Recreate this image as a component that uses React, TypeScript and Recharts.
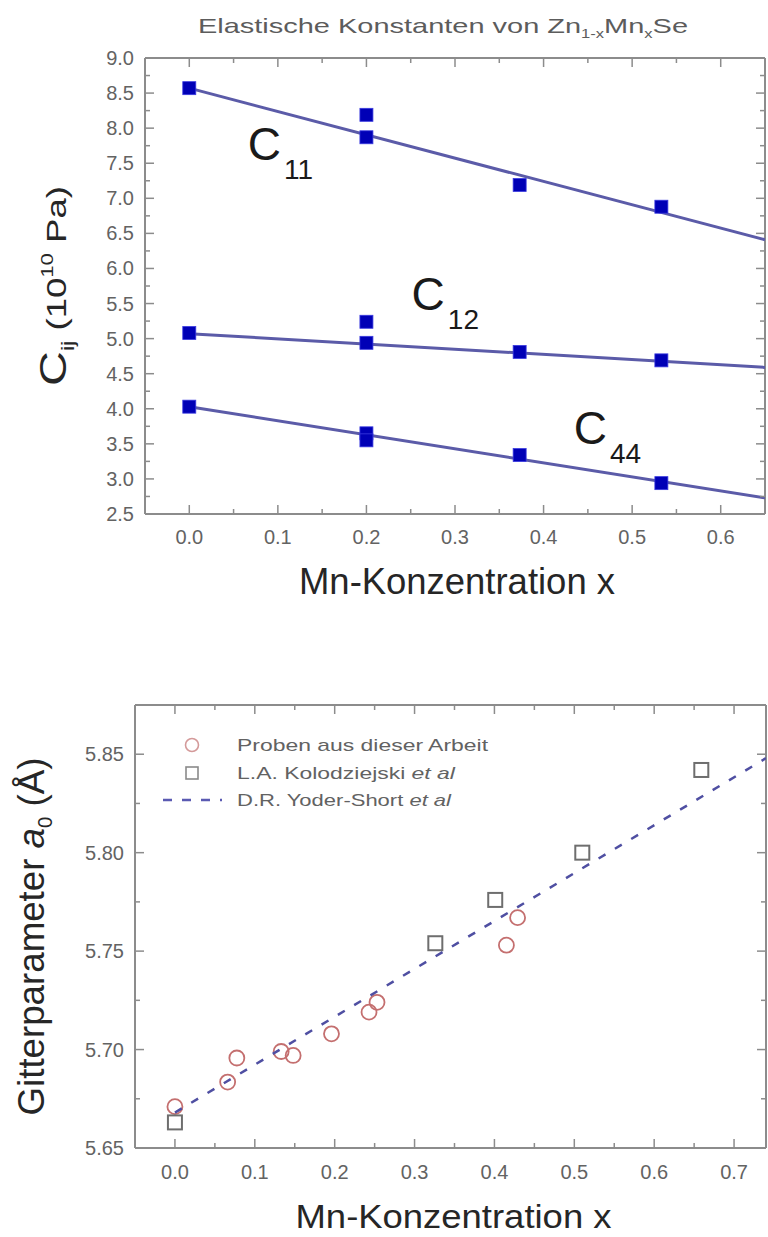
import React from 'react';
import { ScatterChart, Scatter, XAxis, YAxis, ReferenceDot, Legend, Label } from 'recharts';

const FONT = '"Liberation Sans", Arial, Helvetica, sans-serif';
const FRAME = '#8c8c8c';
const TICK_TEXT = '#636363';

// ---------------- Top chart: elastic constants ----------------
const MN_X = [0.0, 0.2, 0.2, 0.373, 0.533];
const C11 = [8.57, 8.19, 7.87, 7.19, 6.88];
const C12 = [5.08, 5.24, 4.94, 4.81, 4.69];
const C44 = [4.03, 3.65, 3.55, 3.34, 2.94];
const FIT_X = [0.0, 0.65];
const C11_FIT = [8.57, 6.41];
const C12_FIT = [5.07, 4.59];
const C44_FIT = [4.03, 2.73];
const C_NAMES = ['11', '12', '44'];
const C_LABEL_X = [0.066, 0.251, 0.434];
const C_LABEL_Y = [7.55, 5.41, 3.5];
const TOP_X_MAJOR = [0, 0.1, 0.2, 0.3, 0.4, 0.5, 0.6];
const TOP_X_MINOR = [0.05, 0.15, 0.25, 0.35, 0.45, 0.55];
const TOP_Y_MAJOR = [2.5, 3.0, 3.5, 4.0, 4.5, 5.0, 5.5, 6.0, 6.5, 7.0, 7.5, 8.0, 8.5, 9.0];
const TOP_Y_MINOR = [2.75, 3.25, 3.75, 4.25, 4.75, 5.25, 5.75, 6.25, 6.75, 7.25, 7.75, 8.25, 8.75];

// ---------------- Bottom chart: lattice parameter ----------------
const PROBEN_X = [0.0, 0.066, 0.0775, 0.133, 0.148, 0.196, 0.243, 0.253, 0.415, 0.429];
const PROBEN_Y = [5.671, 5.6835, 5.6957, 5.699, 5.697, 5.708, 5.719, 5.724, 5.753, 5.767];
const KOLO_X = [0.0, 0.326, 0.401, 0.51, 0.659];
const KOLO_Y = [5.663, 5.754, 5.776, 5.8, 5.842];
const YODER_X = [0.0, 0.74];
const YODER_Y = [5.668, 5.848];
const LEGEND_NAMES = ['Proben aus dieser Arbeit', 'L.A. Kolodziejski ', 'D.R. Yoder-Short '];
const LEGEND_ITALIC = ['', 'et al', 'et al'];
const BOT_X_MAJOR = [0, 0.1, 0.2, 0.3, 0.4, 0.5, 0.6, 0.7];
const BOT_X_MINOR = [0.05, 0.15, 0.25, 0.35, 0.45, 0.55, 0.65];
const BOT_Y_MAJOR = [5.65, 5.7, 5.75, 5.8, 5.85];
const BOT_Y_MINOR = [5.675, 5.725, 5.775, 5.825];

const zip = (xs: number[], ys: number[]) => xs.map((x, i) => ({ x, y: ys[i] }));

// ---------------- tick renderers (inward ticks) ----------------
const MAJOR_LEN = 9;
const MINOR_LEN = 5;

const makeBottomTick = (majors: number[], digits: number, dyText: number) => (p: any) => {
  const v = p.payload?.value;
  const major = majors.includes(v);
  return (
    <g>
      <line x1={p.x} x2={p.x} y1={p.y} y2={p.y - (major ? MAJOR_LEN : MINOR_LEN)} stroke={FRAME} strokeWidth={1.5} />
      {major && (
        <text x={p.x} y={p.y + dyText} textAnchor="middle" fontFamily={FONT} fontSize={20} fill={TICK_TEXT}>
          {Number(v).toFixed(digits)}
        </text>
      )}
    </g>
  );
};
const makeLeftTick = (majors: number[], digits: number, dxText: number) => (p: any) => {
  const v = p.payload?.value;
  const major = majors.includes(v);
  return (
    <g>
      <line x1={p.x} x2={p.x + (major ? MAJOR_LEN : MINOR_LEN)} y1={p.y} y2={p.y} stroke={FRAME} strokeWidth={1.5} />
      {major && (
        <text x={p.x - dxText} y={p.y + 7} textAnchor="end" fontFamily={FONT} fontSize={20} fill={TICK_TEXT}>
          {Number(v).toFixed(digits)}
        </text>
      )}
    </g>
  );
};
const makeTopTick = (majors: number[]) => (p: any) => {
  const major = majors.includes(p.payload?.value);
  return <line x1={p.x} x2={p.x} y1={p.y} y2={p.y + (major ? MAJOR_LEN : MINOR_LEN)} stroke={FRAME} strokeWidth={1.5} />;
};
const makeRightTick = (majors: number[]) => (p: any) => {
  const major = majors.includes(p.payload?.value);
  return <line x1={p.x} x2={p.x - (major ? MAJOR_LEN : MINOR_LEN)} y1={p.y} y2={p.y} stroke={FRAME} strokeWidth={1.5} />;
};

// ---------------- marker shapes ----------------
const NoShape = () => <g />;
const BlueSquare = (p: any) => (
  <rect x={p.cx - 6.5} y={p.cy - 6.5} width={13} height={13} fill="#0000b6" stroke="#3a3ae0" strokeWidth={0.8} />
);
const RedCircle = (p: any) => (
  <circle cx={p.cx} cy={p.cy} r={7.5} fill="none" stroke="#c46f6f" strokeWidth={1.8} />
);
const GraySquare = (p: any) => (
  <rect x={p.cx - 7} y={p.cy - 7} width={14} height={14} fill="none" stroke="#6e6e6e" strokeWidth={2} />
);

// ---------------- labels ----------------
// viewBox of an axis label = the axis box
const TopTitle = (p: any) => {
  const vb = p.viewBox || { x: 145, y: 38, width: 621, height: 20 };
  return (
    <text x={vb.x + vb.width / 2 - 12} y={vb.y + vb.height - 25} textAnchor="middle" fontFamily={FONT} fontSize={21}
      fill="#5c5c5c" textLength={490} lengthAdjust="spacingAndGlyphs">
      Elastische Konstanten von Zn<tspan fontSize={12} dy={5}>1-x</tspan>
      <tspan dy={-5}>Mn</tspan><tspan fontSize={12} dy={5}>x</tspan><tspan dy={-5}>Se</tspan>
    </text>
  );
};
const makeXTitle = (dx: number, dy: number, len: number, size: number) => (p: any) => {
  const vb = p.viewBox || { x: 0, y: 0, width: 0, height: 0 };
  return (
    <text x={vb.x + vb.width / 2 + dx} y={vb.y + dy} textAnchor="middle" fontFamily={FONT}
      fontSize={size} fill="#262626" textLength={len} lengthAdjust="spacingAndGlyphs">
      Mn-Konzentration x
    </text>
  );
};
const TopYTitle = (p: any) => {
  const vb = p.viewBox || { x: 85, y: 58, width: 60, height: 456 };
  const cx = vb.x + vb.width - 79;
  const cy = vb.y + vb.height / 2;
  return (
    <text transform={`translate(${cx},${cy}) rotate(-90)`} x={0} y={0} textAnchor="middle" fontFamily={FONT}
      fontSize={28} fill="#262626" textLength={200} lengthAdjust="spacingAndGlyphs">
      <tspan fontSize={37}>C</tspan><tspan fontSize={18} dy={8}>ij</tspan>
      <tspan dy={-8}> (10</tspan><tspan fontSize={17} dy={-13}>10</tspan><tspan dy={13}> Pa)</tspan>
    </text>
  );
};
const BottomYTitle = (p: any) => {
  const vb = p.viewBox || { x: 75, y: 65, width: 60, height: 443 };
  const cx = vb.x + vb.width - 91;
  const cy = vb.y + vb.height / 2 + 10;
  return (
    <text transform={`translate(${cx},${cy}) rotate(-90)`} x={0} y={0} textAnchor="middle" fontFamily={FONT}
      fontSize={36} fill="#262626" textLength={358} lengthAdjust="spacingAndGlyphs">
      Gitterparameter <tspan fontStyle="italic">a</tspan><tspan fontSize={20} dy={8}>0</tspan>
      <tspan dy={-8}> (Å)</tspan>
    </text>
  );
};
const makeCLabel = (sub: string) => (p: any) => {
  const x = p.viewBox?.x ?? p.cx;
  const y = p.viewBox?.y ?? p.cy;
  return (
    <text x={x} y={y} fontFamily={FONT} fontSize={46} fill="#1a1a1a">
      C<tspan fontSize={28} dx={3} dy={19}>{sub}</tspan>
    </text>
  );
};

// ---------------- legend ----------------
const LEG_ROW_Y = [105, 133, 160];
const LEG_TEXT_LEN = [251, 218, 214];
const LegendContent = () => (
  <svg width={768} height={200} style={{ overflow: 'visible' }}>
    {LEGEND_NAMES.map((name, i) => (
      <g key={name}>
        {i === 0 && <circle cx={192} cy={LEG_ROW_Y[i]} r={6.5} fill="none" stroke="#d49a9a" strokeWidth={1.6} />}
        {i === 1 && <rect x={186} y={LEG_ROW_Y[i] - 6} width={12} height={12} fill="none" stroke="#8a8a8a" strokeWidth={1.6} />}
        {i === 2 && <line x1={163} x2={222} y1={LEG_ROW_Y[i]} y2={LEG_ROW_Y[i]} stroke="#5a5ab2" strokeWidth={2.5} strokeDasharray="9 10" />}
        <text x={237} y={LEG_ROW_Y[i] + 6} fontFamily={FONT} fontSize={17} fill="#626262"
          textLength={LEG_TEXT_LEN[i]} lengthAdjust="spacingAndGlyphs">
          {name}{LEGEND_ITALIC[i] && <tspan fontStyle="italic">{LEGEND_ITALIC[i]}</tspan>}
        </text>
      </g>
    ))}
  </svg>
);

const axisLine = { stroke: FRAME, strokeWidth: 2 };

function TopChart() {
  const xTicks = [...TOP_X_MAJOR, ...TOP_X_MINOR].sort((a, b) => a - b);
  const yTicks = [...TOP_Y_MAJOR, ...TOP_Y_MINOR].sort((a, b) => a - b);
  const xDomain: [number, number] = [-0.05, 0.65];
  const yDomain: [number, number] = [2.5, 9.0];
  const fits = [C11_FIT, C12_FIT, C44_FIT];
  const pts = [C11, C12, C44];
  return (
    <ScatterChart width={768} height={620} margin={{ top: 38, right: 1, bottom: 66, left: 85 }}>
      <XAxis xAxisId="b" type="number" dataKey="x" domain={xDomain} allowDataOverflow ticks={xTicks} interval={0}
        tick={makeBottomTick(TOP_X_MAJOR, 1, 30)} tickLine={false} tickSize={0} tickMargin={0} height={40} axisLine={axisLine}>
        <Label content={makeXTitle(2, 80, 316, 36)} />
      </XAxis>
      <XAxis xAxisId="t" orientation="top" type="number" dataKey="x" domain={xDomain} allowDataOverflow ticks={xTicks} interval={0}
        tick={makeTopTick(TOP_X_MAJOR)} tickLine={false} tickSize={0} tickMargin={0} height={20} axisLine={axisLine}>
        <Label content={TopTitle} />
      </XAxis>
      <YAxis yAxisId="l" type="number" dataKey="y" domain={yDomain} allowDataOverflow ticks={yTicks} interval={0}
        tick={makeLeftTick(TOP_Y_MAJOR, 1, 11)} tickLine={false} tickSize={0} tickMargin={0} width={60} axisLine={axisLine}>
        <Label content={TopYTitle} />
      </YAxis>
      <YAxis yAxisId="r" orientation="right" type="number" dataKey="y" domain={yDomain} allowDataOverflow ticks={yTicks} interval={0}
        tick={makeRightTick(TOP_Y_MAJOR)} tickLine={false} tickSize={0} tickMargin={0} width={2} axisLine={axisLine} />
      {fits.map((f, i) => (
        <Scatter key={'fit' + i} xAxisId="b" yAxisId="l" data={zip(FIT_X, f)} line={{ stroke: '#5b5ba8', strokeWidth: 3 }}
          lineType="joint" shape={NoShape} isAnimationActive={false} />
      ))}
      {pts.map((s, i) => (
        <Scatter key={'pts' + i} xAxisId="b" yAxisId="l" data={zip(MN_X, s)} shape={BlueSquare} isAnimationActive={false} />
      ))}
      <Scatter xAxisId="t" yAxisId="r" data={zip(FIT_X, C11_FIT)} shape={NoShape} isAnimationActive={false} />
      {C_NAMES.map((n, i) => (
        <ReferenceDot key={n} xAxisId="b" yAxisId="l" x={C_LABEL_X[i]} y={C_LABEL_Y[i]} r={0} fill="none" stroke="none"
          label={makeCLabel(n)} />
      ))}
    </ScatterChart>
  );
}

function BottomChart() {
  const xTicks = [...BOT_X_MAJOR, ...BOT_X_MINOR].sort((a, b) => a - b);
  const yTicks = [...BOT_Y_MAJOR, ...BOT_Y_MINOR].sort((a, b) => a - b);
  const xDomain: [number, number] = [-0.05, 0.74];
  const yDomain: [number, number] = [5.65, 5.875];
  return (
    <ScatterChart width={768} height={597} margin={{ top: 45, right: 1, bottom: 49, left: 75 }}>
      <XAxis xAxisId="b" type="number" dataKey="x" domain={xDomain} allowDataOverflow ticks={xTicks} interval={0}
        tick={makeBottomTick(BOT_X_MAJOR, 1, 31)} tickLine={false} tickSize={0} tickMargin={0} height={40} axisLine={axisLine}>
        <Label content={makeXTitle(3, 80, 316, 34)} />
      </XAxis>
      <XAxis xAxisId="t" orientation="top" type="number" dataKey="x" domain={xDomain} allowDataOverflow ticks={xTicks} interval={0}
        tick={makeTopTick(BOT_X_MAJOR)} tickLine={false} tickSize={0} tickMargin={0} height={20} axisLine={axisLine} />
      <YAxis yAxisId="l" type="number" dataKey="y" domain={yDomain} allowDataOverflow ticks={yTicks} interval={0}
        tick={makeLeftTick(BOT_Y_MAJOR, 2, 11)} tickLine={false} tickSize={0} tickMargin={0} width={60} axisLine={axisLine}>
        <Label content={BottomYTitle} />
      </YAxis>
      <YAxis yAxisId="r" orientation="right" type="number" dataKey="y" domain={yDomain} allowDataOverflow ticks={yTicks} interval={0}
        tick={makeRightTick(BOT_Y_MAJOR)} tickLine={false} tickSize={0} tickMargin={0} width={1} axisLine={axisLine} />
      <Legend content={LegendContent} layout="horizontal" verticalAlign="middle" align="center"
        wrapperStyle={{ left: 0, top: 0, width: 768, height: 200, pointerEvents: 'none' }} />
      <Scatter name="Proben aus dieser Arbeit" xAxisId="b" yAxisId="l" data={zip(PROBEN_X, PROBEN_Y)} shape={RedCircle}
        isAnimationActive={false} />
      <Scatter name="L.A. Kolodziejski et al" xAxisId="b" yAxisId="l" data={zip(KOLO_X, KOLO_Y)} shape={GraySquare}
        isAnimationActive={false} />
      <Scatter name="D.R. Yoder-Short et al" xAxisId="b" yAxisId="l" data={zip(YODER_X, YODER_Y)}
        line={{ stroke: '#4f4fa2', strokeWidth: 2.5, strokeDasharray: '8 11' }} lineType="joint"
        shape={NoShape} isAnimationActive={false} />
      <Scatter xAxisId="t" yAxisId="r" data={zip(YODER_X, YODER_Y)} shape={NoShape} isAnimationActive={false} />
    </ScatterChart>
  );
}

export default function App() {
  return (
    <div style={{ position: 'absolute', left: 0, top: 0, width: 768, height: 1237, background: '#fff', overflow: 'hidden' }}>
      <div style={{ position: 'absolute', left: 0, top: 0 }}>
        <TopChart />
      </div>
      <div style={{ position: 'absolute', left: 0, top: 640 }}>
        <BottomChart />
      </div>
    </div>
  );
}
